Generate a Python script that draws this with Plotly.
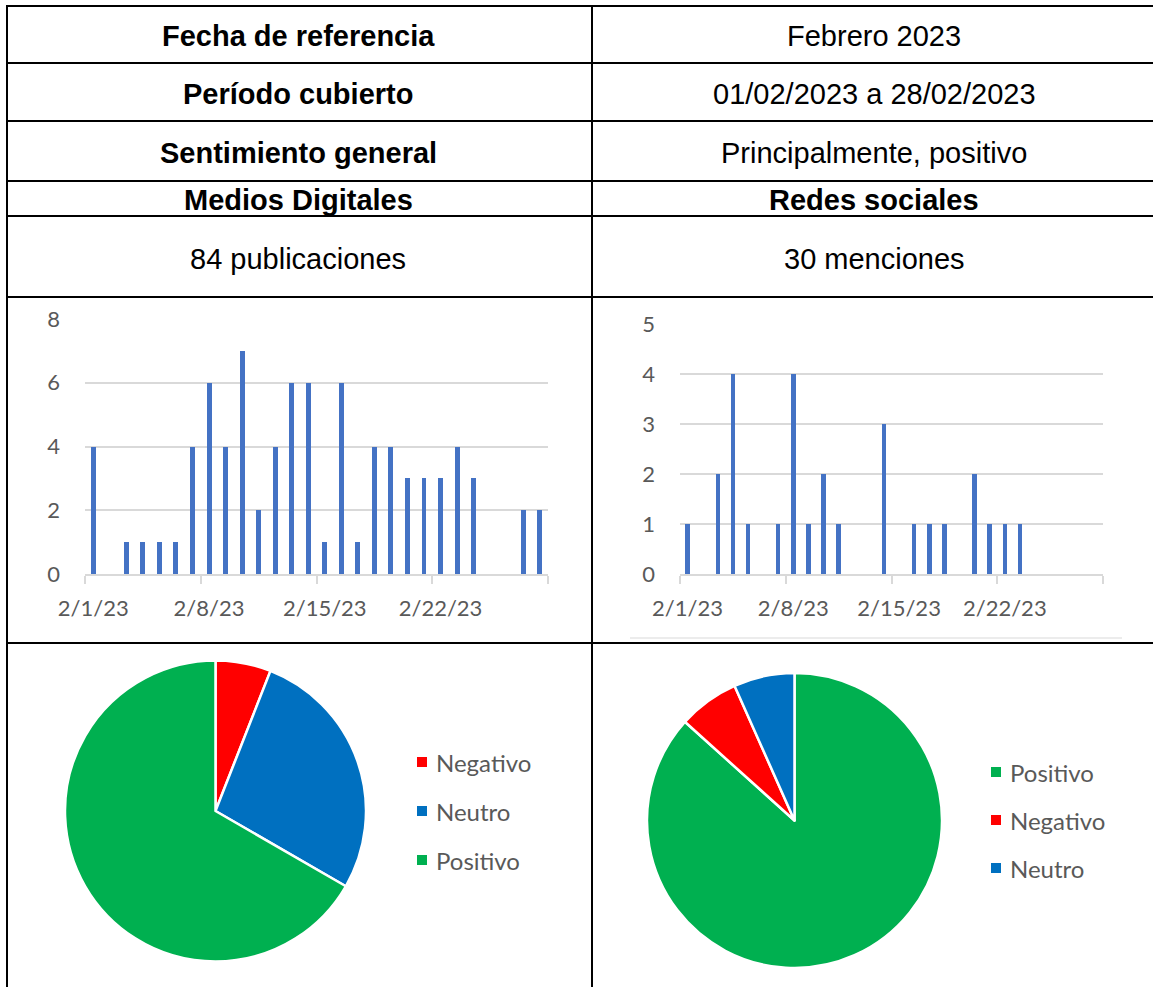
import plotly.graph_objects as go

W, H = 1153, 987

# ---------------- data ----------------
row_labels = ["Fecha de referencia", "Período cubierto", "Sentimiento general"]
row_values = ["Febrero 2023", "01/02/2023 a 28/02/2023", "Principalmente, positivo"]
headers = ["Medios Digitales", "Redes sociales"]
totals = ["84 publicaciones", "30 menciones"]

md_dates = ["2023-02-01", "2023-02-03", "2023-02-04", "2023-02-05", "2023-02-06",
            "2023-02-07", "2023-02-08", "2023-02-09", "2023-02-10", "2023-02-11",
            "2023-02-12", "2023-02-13", "2023-02-14", "2023-02-15", "2023-02-16",
            "2023-02-17", "2023-02-18", "2023-02-19", "2023-02-20", "2023-02-21",
            "2023-02-22", "2023-02-23", "2023-02-24", "2023-02-27", "2023-02-28"]
md_counts = [4, 1, 1, 1, 1, 4, 6, 4, 7, 2, 4, 6, 6, 1, 6, 1, 4, 4, 3, 3, 3, 4, 3, 2, 2]

rs_dates = ["2023-02-01", "2023-02-03", "2023-02-04", "2023-02-05", "2023-02-07",
            "2023-02-08", "2023-02-09", "2023-02-10", "2023-02-11", "2023-02-14",
            "2023-02-16", "2023-02-17", "2023-02-18", "2023-02-20", "2023-02-21",
            "2023-02-22", "2023-02-23"]
rs_counts = [1, 2, 4, 1, 1, 4, 1, 2, 1, 3, 1, 1, 1, 2, 1, 1, 1]

tick_dates = ["2023-02-01", "2023-02-08", "2023-02-15", "2023-02-22"]
tick_labels = ["2/1/23", "2/8/23", "2/15/23", "2/22/23"]
boundary_dates = ["2023-01-31 12:00", "2023-02-07 12:00", "2023-02-14 12:00",
                  "2023-02-21 12:00", "2023-02-28 12:00"]
md_yticks = [0, 2, 4, 6, 8]
rs_yticks = [0, 1, 2, 3, 4, 5]

sent_labels_md = ["Negativo", "Neutro", "Positivo"]
sent_values_md = [5, 23, 56]
sent_labels_rs = ["Positivo", "Negativo", "Neutro"]
sent_values_rs = [26, 2, 2]
sent_colors = {"Negativo": "#FF0000", "Neutro": "#0070C0", "Positivo": "#00B050"}

# ---------------- helpers ----------------
def px(x):
    return x / W

def py(y):
    return 1 - y / H

BAR = "#4472C4"
GRID = "#D9D9D9"
TXT = "#595959"
CFONT = "Lato"
TFONT = "Liberation Sans, Arial"
DAY = 86400000

fig = go.Figure()

fig.add_trace(go.Bar(x=md_dates, y=md_counts, width=0.3 * DAY, marker_color=BAR,
                     marker_line_width=0, xaxis="x", yaxis="y", showlegend=False))
fig.add_trace(go.Bar(x=rs_dates, y=rs_counts, width=0.3 * DAY, marker_color=BAR,
                     marker_line_width=0, xaxis="x2", yaxis="y2", showlegend=False))

fig.add_trace(go.Pie(labels=sent_labels_md, values=sent_values_md, sort=False,
                     direction="clockwise", rotation=0, textinfo="none",
                     marker=dict(colors=[sent_colors[l] for l in sent_labels_md],
                                 line=dict(color="white", width=2.5)),
                     domain=dict(x=[px(65), px(366)], y=[py(962), py(660)]),
                     showlegend=False))
fig.add_trace(go.Pie(labels=sent_labels_rs, values=sent_values_rs, sort=False,
                     direction="clockwise", rotation=0, textinfo="none",
                     marker=dict(colors=[sent_colors[l] for l in sent_labels_rs],
                                 line=dict(color="white", width=2.5)),
                     domain=dict(x=[px(647), px(942)], y=[py(968), py(673)]),
                     showlegend=False))

def xaxis_cfg(domain):
    return dict(domain=domain, type="date", automargin=False,
                range=[boundary_dates[0], boundary_dates[-1]],
                tickmode="array", tickvals=tick_dates, ticktext=tick_labels,
                ticks="", showgrid=False, zeroline=False,
                showline=True, linecolor=GRID, linewidth=2,
                tickfont=dict(family=CFONT, size=22, color=TXT),
                ticklabelstandoff=14,
                minor=dict(tickvals=boundary_dates, ticks="outside", ticklen=8,
                           tickwidth=2, tickcolor=GRID, showgrid=False),
                fixedrange=True)

def yaxis_cfg(domain, rng, tv, anchor):
    return dict(domain=domain, range=rng, tickmode="array", tickvals=tv,
                automargin=False,
                ticks="", showgrid=True, gridcolor=GRID, gridwidth=2,
                zeroline=False, showline=False, anchor=anchor,
                tickfont=dict(family=CFONT, size=22, color=TXT),
                ticklabelstandoff=24, fixedrange=True)

fig.update_layout(
    width=W, height=H, margin=dict(l=0, r=0, t=0, b=0, autoexpand=False),
    paper_bgcolor="white", plot_bgcolor="white",
    xaxis=dict(xaxis_cfg([px(85), px(548)]), anchor="y"),
    yaxis=yaxis_cfg([py(574), py(319)], [0, 8], md_yticks, "x"),
    xaxis2=dict(xaxis_cfg([px(680), px(1103)]), anchor="y2"),
    yaxis2=yaxis_cfg([py(574), py(324)], [0, 5], rs_yticks, "x2"),
    bargap=0,
)

shapes = []
# table lines
for y in [6, 63, 121, 181, 216, 297, 643]:
    shapes.append(dict(type="line", xref="paper", yref="paper",
                       x0=px(6), x1=px(1153), y0=py(y), y1=py(y),
                       line=dict(color="black", width=2)))
for x in [7, 592]:
    shapes.append(dict(type="line", xref="paper", yref="paper",
                       x0=px(x), x1=px(x), y0=py(5), y1=py(987),
                       line=dict(color="black", width=2)))
# faint chart-image edge below right bar chart
shapes.append(dict(type="line", xref="paper", yref="paper",
                   x0=px(630), x1=px(1122), y0=py(638), y1=py(638),
                   line=dict(color="#E6E6E6", width=1.5)))

annotations = []

def txt(x, y, s, bold=False, size=29):
    annotations.append(dict(xref="paper", yref="paper", x=px(x), y=py(y),
                            text=("<b>%s</b>" % s) if bold else s,
                            showarrow=False, xanchor="center", yanchor="middle",
                            font=dict(family=TFONT, size=size, color="black")))

row_y = [36, 94, 153]
for lab, val, yy in zip(row_labels, row_values, row_y):
    txt(298, yy, lab, bold=True)
    txt(874, yy, val)
txt(298, 200, headers[0], bold=True)
txt(874, 200, headers[1], bold=True)
txt(298, 259, totals[0])
txt(874, 259, totals[1])

# pie legends
def legend(labels, x_marker, x_text, ys):
    for lab, yy in zip(labels, ys):
        shapes.append(dict(type="rect", xref="paper", yref="paper",
                           x0=px(x_marker), x1=px(x_marker + 10),
                           y0=py(yy + 5), y1=py(yy - 5),
                           fillcolor=sent_colors[lab], line=dict(width=0)))
        annotations.append(dict(xref="paper", yref="paper", x=px(x_text), y=py(yy),
                                text=lab, showarrow=False, xanchor="left",
                                yanchor="middle",
                                font=dict(family=CFONT, size=24, color=TXT)))

legend(sent_labels_md, 417, 434, [762, 811, 860])
legend(sent_labels_rs, 991, 1008, [772, 820, 868])

fig.update_layout(shapes=shapes, annotations=annotations)

fig.write_html("out.html",
               config={"displayModeBar": False},
               post_script="document.body.style.margin='0';"
                           "document.body.style.overflow='hidden';")
